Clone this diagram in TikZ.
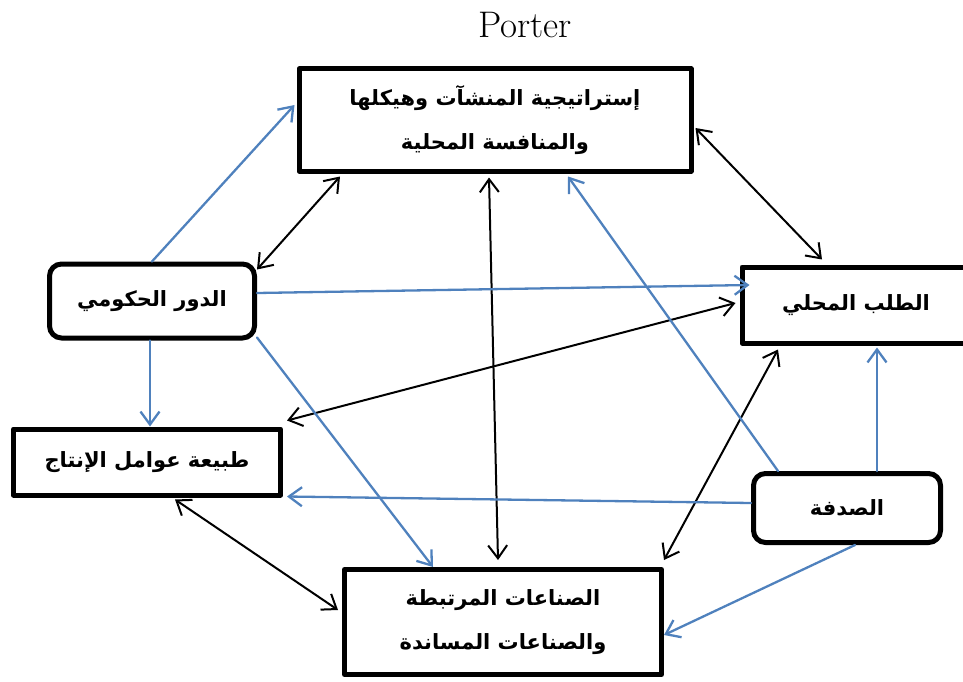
\documentclass[tikz,border=0pt]{standalone}
\usepackage{fontspec}
\newfontfamily\arabicfont[Script=Arabic]{DejaVu Sans}
\TeXXeTstate=1
\usepackage{xcolor}
\definecolor{linkblue}{RGB}{79,129,189}
\usepackage{tikz}
\usetikzlibrary{arrows.meta,calc}
\tikzset{
  box/.style={draw=black,line width=5pt,inner sep=0pt,align=center,
    font=\arabicfont\bfseries\fontsize{21}{44}\selectfont},
  roundbox/.style={box,rounded corners=12pt},
  mutual/.style={<->,line width=2pt,black},
  effect/.style={->,line width=2.3pt,linkblue}
}
\begin{document}
\begin{tikzpicture}[line cap=round,line join=round,>={Straight Barb[length=13pt,width=19pt]},x=1pt,y=-1pt]
\useasboundingbox (0,0) rectangle (963,682);
\node (title) at (525,25) {\fontsize{37}{40}\selectfont Porter};
\node[box,minimum width=392pt,minimum height=102pt] (strat) at (495,120) {\beginR إستراتيجية المنشآت وهيكلها\endR\\ \beginR والمنافسة المحلية\endR};
\node[roundbox,minimum width=205pt,minimum height=74pt] (gov) at (152,301) {\beginR الدور الحكومي\endR};
\node[box,minimum width=267pt,minimum height=66pt] (factors) at (147,462) {\beginR طبيعة عوامل الإنتاج\endR};
\node[box,minimum width=228pt,minimum height=76pt] (demand) at (856,305) {\beginR الطلب المحلي\endR};
\node[roundbox,minimum width=187pt,minimum height=69pt] (chance) at (847,508) {\beginR الصدفة\endR};
\node[box,minimum width=317pt,minimum height=105pt] (related) at (503,622) {\beginR الصناعات المرتبطة\endR\\ \beginR والصناعات المساندة\endR};
\draw[mutual] ([xshift=-155pt,yshift=-3pt]strat.south) -- ([yshift=-8pt]gov.north east);
\draw[mutual] ([xshift=2pt,yshift=-8pt]strat.east) -- ([xshift=-34pt,yshift=5pt]demand.north);
\draw[mutual] ([xshift=-6pt,yshift=-4pt]strat.south) -- ([xshift=-5pt,yshift=7pt]related.north);
\draw[mutual] ([xshift=-78pt,yshift=-4pt]demand.south) -- ([yshift=7pt]related.north east);
\draw[mutual] ([xshift=-4pt,yshift=2pt]demand.west) -- ([xshift=4pt,yshift=6pt]factors.north east);
\draw[mutual] ([xshift=28pt,yshift=-2pt]factors.south) -- ([xshift=-4pt,yshift=12pt]related.west);
\draw[effect] (gov.north) -- ([xshift=-2pt,yshift=15pt]strat.west);
\draw[effect] ([yshift=8pt]gov.east) -- ([xshift=10pt,yshift=20pt]demand.west);
\draw[effect] ([xshift=-2pt]gov.south) -- ([xshift=3pt]factors.north);
\draw[effect] ([yshift=3pt]gov.south east) -- ([xshift=-70pt]related.north);
\draw[effect] ([xshift=-69pt]chance.north) -- ([xshift=73pt,yshift=-3pt]strat.south);
\draw[effect] ([xshift=30pt]chance.north) -- ([xshift=21pt,yshift=-2pt]demand.south);
\draw[effect] ([yshift=5pt]chance.west) -- ([xshift=4pt,yshift=1pt]factors.south east);
\draw[effect] ([xshift=8pt]chance.south) -- ([yshift=-13pt]related.east);
\end{tikzpicture}
\end{document}
